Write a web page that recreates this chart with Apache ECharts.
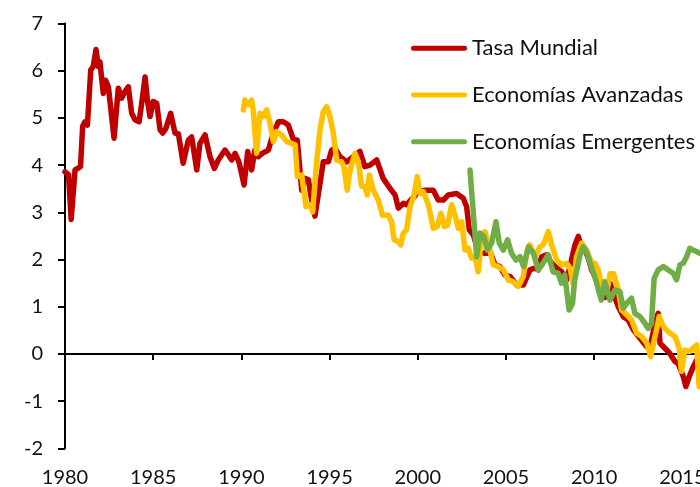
<!DOCTYPE html>
<html>
<head>
<meta charset="utf-8">
<script src="https://cdn.jsdelivr.net/npm/echarts@6/dist/echarts.min.js"></script>
<style>
  html, body { margin: 0; padding: 0; background: #fff; }
  #chart { width: 700px; height: 487px; }
</style>
</head>
<body>
<div id="chart"></div>
<script>
// nombres de las series
const seriesNames = ["Tasa Mundial", "Economías Avanzadas", "Economías Emergentes"];
const xTicks = [1980, 1985, 1990, 1995, 2000, 2005, 2010, 2015];

// Tasa Mundial
const mundialYears = [1980.0, 1980.2, 1980.35, 1980.45, 1980.57, 1980.76, 1980.88, 1981.0, 1981.13, 1981.27,
  1981.46, 1981.6, 1981.76, 1981.89, 1981.98, 1982.17, 1982.3, 1982.46, 1982.78, 1983.02,
  1983.21, 1983.4, 1983.59, 1983.78, 1983.97, 1984.2, 1984.35, 1984.54, 1984.67, 1984.82,
  1985.0, 1985.2, 1985.39, 1985.54, 1985.72, 1985.99, 1986.24, 1986.43, 1986.7, 1986.99,
  1987.18, 1987.47, 1987.65, 1987.94, 1988.22, 1988.47, 1988.69, 1989.07, 1989.26, 1989.45,
  1989.64, 1989.86, 1990.15, 1990.36, 1990.58, 1990.77, 1990.96, 1991.18, 1991.53, 1991.81,
  1992.1, 1992.38, 1992.66, 1992.94, 1993.17, 1993.42, 1993.6, 1993.8, 1993.98, 1994.17,
  1994.46, 1994.64, 1994.93, 1995.12, 1995.3, 1995.59, 1995.97, 1996.34, 1996.72, 1997.0,
  1997.29, 1997.67, 1998.04, 1998.42, 1998.71, 1998.9, 1999.18, 1999.37, 1999.6, 1999.8,
  2000.03, 2000.41, 2000.88, 2001.16, 2001.45, 2001.73, 2002.2, 2002.58, 2002.77, 2002.92,
  2003.15, 2003.43, 2003.81, 2004.09, 2004.38, 2004.66, 2004.94, 2005.23, 2005.6, 2005.98,
  2006.36, 2006.64, 2006.83, 2007.02, 2007.3, 2007.59, 2007.87, 2008.16, 2008.44, 2008.63,
  2008.91, 2009.1, 2009.29, 2009.48, 2009.67, 2009.86, 2010.14, 2010.43, 2010.62, 2010.9,
  2011.08, 2011.37, 2011.65, 2011.93, 2012.22, 2012.6, 2012.98, 2013.16, 2013.45, 2013.63,
  2013.73, 2014.01, 2014.29, 2014.58, 2014.76, 2015.05, 2015.2, 2015.39, 2015.62, 2015.81, 2016.0];
const mundialValues = [3.86, 3.8, 2.85, 2.85, 3.9, 3.94, 3.97, 4.82, 4.92, 4.85,
  6.02, 6.09, 6.45, 6.09, 6.19, 5.52, 5.8, 5.66, 4.57, 5.63,
  5.42, 5.56, 5.66, 5.1, 4.96, 4.92, 5.31, 5.87, 5.38, 5.03,
  5.35, 5.31, 4.75, 4.68, 4.78, 5.1, 4.68, 4.66, 4.04, 4.53,
  4.6, 3.9, 4.46, 4.64, 4.18, 3.93, 4.11, 4.32, 4.22, 4.11,
  4.25, 4.07, 3.58, 4.29, 3.9, 4.32, 4.18, 4.25, 4.32, 4.68,
  4.92, 4.92, 4.85, 4.55, 4.53, 3.47, 3.72, 3.69, 3.26, 2.92,
  3.62, 4.07, 4.07, 4.32, 4.36, 4.18, 4.07, 4.18, 4.29, 3.97,
  4.0, 4.11, 3.72, 3.51, 3.37, 3.09, 3.19, 3.16, 3.26, 3.33,
  3.44, 3.47, 3.47, 3.26, 3.26, 3.37, 3.4, 3.3, 3.12, 2.63,
  2.52, 2.17, 2.13, 2.17, 1.89, 1.85, 1.67, 1.64, 1.46, 1.46,
  1.78, 1.82, 1.78, 2.06, 2.1, 1.92, 1.82, 1.74, 1.57, 1.85,
  2.31, 2.49, 2.27, 2.2, 2.03, 1.78, 1.57, 1.4, 1.2, 1.5,
  1.29, 1.0, 0.79, 0.72, 0.51, 0.33, 0.15, 0.12, 0.65, 0.86,
  0.23, 0.12, 0.01, -0.16, -0.2, -0.48, -0.69, -0.48, -0.27, -0.13, -0.3];

// Economías Avanzadas
const avanzadasYears = [1990.11, 1990.2, 1990.39, 1990.58, 1990.67, 1990.86, 1991.05, 1991.24, 1991.43, 1991.62,
  1991.81, 1992.0, 1992.28, 1992.57, 1992.85, 1993.05, 1993.17, 1993.42, 1993.66, 1993.89,
  1994.04, 1994.26, 1994.46, 1994.64, 1994.84, 1995.02, 1995.21, 1995.4, 1995.68, 1995.81,
  1996.0, 1996.16, 1996.44, 1996.63, 1996.82, 1997.0, 1997.14, 1997.25, 1997.48, 1997.76,
  1998.0, 1998.33, 1998.52, 1998.65, 1998.9, 1999.03, 1999.18, 1999.37, 1999.56, 1999.78,
  1999.97, 2000.12, 2000.31, 2000.6, 2000.88, 2001.1, 2001.31, 2001.5, 2001.69, 2001.92,
  2002.11, 2002.3, 2002.49, 2002.68, 2002.86, 2003.05, 2003.24, 2003.43, 2003.62, 2003.81,
  2004.09, 2004.28, 2004.56, 2004.85, 2005.13, 2005.41, 2005.7, 2005.98, 2006.2, 2006.35,
  2006.64, 2006.92, 2007.11, 2007.4, 2007.59, 2007.87, 2008.16, 2008.44, 2008.63, 2008.82,
  2009.0, 2009.29, 2009.57, 2009.86, 2010.05, 2010.23, 2010.43, 2010.71, 2010.9, 2011.1,
  2011.37, 2011.56, 2011.84, 2012.12, 2012.41, 2012.69, 2012.98, 2013.2, 2013.45, 2013.69,
  2013.92, 2014.1, 2014.29, 2014.58, 2014.82, 2014.95, 2015.14, 2015.42, 2015.61, 2015.81, 2015.95];
const avanzadasValues = [5.17, 5.38, 5.28, 5.38, 5.17, 4.25, 5.1, 5.03, 5.17, 4.89,
  4.5, 4.71, 4.64, 4.5, 4.46, 4.43, 3.76, 3.79, 3.12, 3.16,
  3.01, 4.04, 4.75, 5.13, 5.24, 5.03, 4.68, 4.11, 4.07, 3.97,
  3.47, 3.9, 4.25, 4.07, 3.55, 3.55, 3.37, 3.79, 3.47, 3.26,
  2.94, 2.94, 2.8, 2.42, 2.38, 2.31, 2.56, 2.63, 3.12, 3.35,
  3.76, 3.4, 3.44, 3.16, 2.66, 2.7, 2.98, 2.7, 2.73, 3.16,
  2.94, 2.66, 2.8, 2.2, 2.24, 2.03, 2.06, 1.74, 2.52, 2.59,
  2.2, 1.89, 1.85, 1.78, 1.57, 1.53, 1.43, 1.64, 2.2, 2.31,
  2.06, 2.27, 2.31, 2.59, 2.31, 1.99, 1.89, 1.92, 1.82, 1.46,
  2.06, 2.35, 2.2, 1.92, 1.92, 1.78, 1.43, 1.3, 1.7, 1.7,
  1.36, 0.93, 0.83, 0.72, 0.44, 0.37, 0.23, -0.06, 0.37, 0.79,
  0.58, 0.51, 0.44, 0.37, 0.12, -0.37, 0.08, 0.05, 0.12, 0.19, -0.69];

// Economías Emergentes
const emergentesYears = [2002.96, 2003.34, 2003.53, 2003.75, 2003.94, 2004.19, 2004.43, 2004.62, 2004.85, 2005.09,
  2005.32, 2005.57, 2005.8, 2006.0, 2006.28, 2006.56, 2006.83, 2007.1, 2007.4, 2007.67,
  2007.95, 2008.14, 2008.33, 2008.58, 2008.77, 2008.9, 2009.18, 2009.37, 2009.56, 2009.84,
  2010.12, 2010.4, 2010.6, 2010.9, 2011.18, 2011.46, 2011.65, 2011.93, 2012.12, 2012.31,
  2012.6, 2012.88, 2013.06, 2013.25, 2013.4, 2013.63, 2013.92, 2014.2, 2014.48, 2014.67,
  2014.86, 2015.05, 2015.24, 2015.42, 2015.61, 2015.8, 2016.0];
const emergentesValues = [3.9, 2.06, 2.56, 2.49, 2.2, 2.35, 2.8, 2.35, 2.2, 2.42,
  2.13, 1.99, 2.06, 1.85, 2.27, 2.13, 1.78, 1.92, 2.1, 1.74,
  1.71, 1.5, 1.67, 0.93, 1.07, 1.57, 2.06, 2.27, 2.17, 1.85,
  1.53, 1.14, 1.53, 1.14, 1.36, 1.32, 0.97, 1.11, 1.18, 0.86,
  0.79, 0.65, 0.54, 0.65, 1.6, 1.78, 1.85, 1.78, 1.71, 1.57,
  1.89, 1.92, 2.06, 2.24, 2.2, 2.17, 2.13];

const colors = ["#C00000", "#FFC000", "#70AD47"];
const fontFamily = "Lato, 'Open Sans', sans-serif";
// barra redondeada para la leyenda
const legendIcon = "path://M2.5,0 H53.5 A2.5,2.5 0 0 1 53.5,5 H2.5 A2.5,2.5 0 0 1 2.5,0 Z";

function pairs(xs, ys) {
  return xs.map((x, i) => [x, ys[i]]);
}

const chart = echarts.init(document.getElementById("chart"), null, { renderer: "canvas" });

const lineSeries = (name, data, color) => ({
  name: name,
  type: "line",
  data: data,
  symbol: "none",
  showSymbol: false,
  smooth: false,
  lineStyle: { color: color, width: 5.5, cap: "round", join: "round" },
  itemStyle: { color: color },
  emphasis: { disabled: true },
  animation: false,
});

const option = {
  animation: false,
  backgroundColor: "#fff",
  grid: { left: 65, right: 0, top: 23.6, bottom: 38.7, containLabel: false, outerBoundsMode: "none" },
  legend: {
    orient: "vertical",
    left: 406,
    top: 32.3,
    icon: legendIcon,
    itemWidth: 56,
    itemHeight: 22,
    itemGap: 24.7,
    symbolKeepAspect: true,
    data: seriesNames,
    textStyle: { fontFamily: fontFamily, fontSize: 22, color: "#111" },
  },
  xAxis: [
    {
      // eje en cero, solo linea y marcas
      type: "value",
      min: 1980,
      max: 2016,
      interval: 5,
      axisLine: { show: true, onZero: true, lineStyle: { color: "#000", width: 2 } },
      axisTick: { show: true, length: 6, inside: false, customValues: xTicks, lineStyle: { color: "#000", width: 2 } },
      axisLabel: { show: false },
      splitLine: { show: false },
    },
    {
      // etiquetas abajo
      type: "value",
      position: "bottom",
      min: 1980,
      max: 2016,
      interval: 5,
      axisLine: { show: false, onZero: false },
      axisTick: { show: false },
      splitLine: { show: false },
      axisLabel: {
        show: true,
        customValues: xTicks,
        margin: 19,
        fontFamily: fontFamily,
        fontSize: 20,
        color: "#111",
        hideOverlap: false,
        formatter: (v) => String(v),
      },
    },
  ],
  yAxis: {
    type: "value",
    min: -2,
    max: 7,
    interval: 1,
    axisLine: { show: true, onZero: false, lineStyle: { color: "#000", width: 2 } },
    axisTick: { show: true, length: 7, inside: false, lineStyle: { color: "#000", width: 2 } },
    axisLabel: { margin: 22, fontFamily: fontFamily, fontSize: 20, color: "#111" },
    splitLine: { show: false },
  },
  series: [
    lineSeries(seriesNames[0], pairs(mundialYears, mundialValues), colors[0]),
    lineSeries(seriesNames[1], pairs(avanzadasYears, avanzadasValues), colors[1]),
    lineSeries(seriesNames[2], pairs(emergentesYears, emergentesValues), colors[2]),
  ],
};

chart.setOption(option);
</script>
</body>
</html>
